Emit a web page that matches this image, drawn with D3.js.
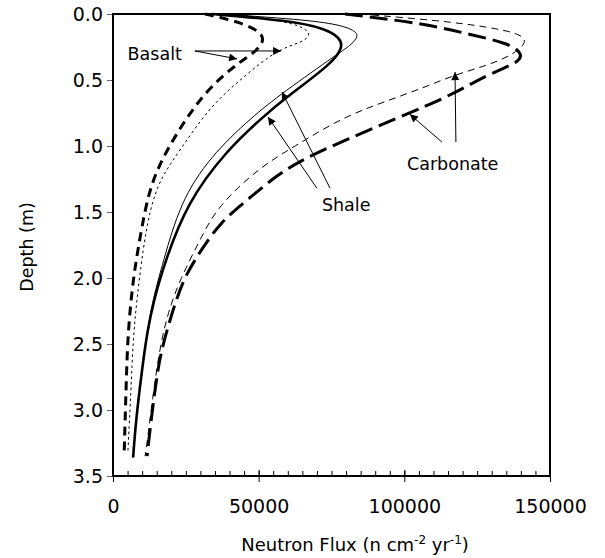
<!DOCTYPE html>
<html>
<head>
<meta charset="utf-8">
<script src="https://cdn.jsdelivr.net/npm/d3@7"></script>
<style>
body { margin: 0; background: #fff; }
text { font-family: "DejaVu Sans", Verdana, sans-serif; fill: #000; }
</style>
</head>
<body>
<svg id="chart" width="605" height="558"></svg>
<script>
// values: depth in m, flux in n cm-2 yr-1
var basaltThickDepth = [0, 0.06, 0.14, 0.21, 0.29, 0.36, 0.55, 0.78, 1.03, 1.25, 1.48, 1.78, 2.01, 2.41, 2.82, 3.35];
var basaltThickFlux  = [31600, 43600, 51100, 51800, 48700, 43600, 33300, 25400, 18500, 13700, 11000, 8600, 6900, 5100, 4500, 3800];

var basaltThinDepth = [0, 0.06, 0.12, 0.17, 0.22, 0.27, 0.48, 0.70, 1.03, 1.25, 1.48, 1.78, 2.16, 2.46, 2.84, 3.32];
var basaltThinFlux  = [41900, 60700, 66900, 67600, 64200, 56300, 44600, 33300, 23000, 16100, 12700, 10300, 8200, 6900, 6200, 5100];

var shaleThinDepth = [0, 0.04, 0.08, 0.13, 0.17, 0.23, 0.29, 0.60, 0.78, 1.08, 1.43, 1.88, 2.16, 2.41, 2.69, 3.07, 3.36];
var shaleThinFlux  = [36700, 64200, 77900, 83400, 84100, 82000, 77900, 58000, 47700, 33300, 23000, 17200, 13700, 11700, 10000, 7900, 6900];

var shaleThickDepth = [0, 0.05, 0.11, 0.18, 0.25, 0.37, 0.65, 0.78, 1.03, 1.43, 1.88, 2.16, 2.41, 2.69, 3.07, 3.36];
var shaleThickFlux  = [34000, 60700, 72800, 77900, 78900, 75500, 58300, 51500, 39100, 25400, 17800, 14100, 11700, 10000, 7900, 6900];

var carbThinDepth = [0, 0.05, 0.10, 0.15, 0.21, 0.31, 0.39, 0.46, 0.56, 0.65, 0.78, 1.01, 1.16, 1.46, 1.71, 2.01, 2.26, 2.52, 2.94, 3.20, 3.35];
var carbThinFlux  = [84800, 112200, 129400, 139700, 142400, 137300, 128400, 117400, 106400, 95100, 78900, 61800, 50400, 35700, 29900, 23000, 18900, 16100, 13400, 12000, 11000];

var carbThickDepth = [0, 0.07, 0.16, 0.22, 0.29, 0.36, 0.42, 0.52, 0.63, 0.78, 0.95, 1.10, 1.22, 1.41, 1.58, 1.80, 2.01, 2.31, 2.59, 2.82, 3.07, 3.35];
var carbThickFlux  = [79600, 106400, 123600, 135200, 140400, 139700, 132800, 123600, 114600, 98500, 80300, 65200, 56300, 46000, 36700, 29900, 24000, 19600, 16100, 14600, 13100, 11700];

var xTicks = [0, 50000, 100000, 150000];
var yTicks = [0, 0.5, 1.0, 1.5, 2.0, 2.5, 3.0, 3.5];

var svg = d3.select("#chart");

var x = d3.scaleLinear().domain([0, 150000]).range([113, 550]);
var y = d3.scaleLinear().domain([0, 3.5]).range([14, 476]);

var series = [
    { depth: basaltThickDepth, flux: basaltThickFlux, w: 3, dash: "9,6" },
    { depth: basaltThinDepth, flux: basaltThinFlux, w: 1, dash: "2.5,3" },
    { depth: shaleThinDepth, flux: shaleThinFlux, w: 1, dash: null },
    { depth: shaleThickDepth, flux: shaleThickFlux, w: 2.6, dash: null },
    { depth: carbThinDepth, flux: carbThinFlux, w: 1, dash: "7,5" },
    { depth: carbThickDepth, flux: carbThickFlux, w: 3, dash: "18,7" }
];

var line = d3.line()
    .curve(d3.curveBasis)
    .x(function (d) { return x(d[0]); })
    .y(function (d) { return y(d[1]); });

// arrow head
svg.append("defs").append("marker")
    .attr("id", "head")
    .attr("viewBox", "0 0 10 10")
    .attr("refX", 10).attr("refY", 5)
    .attr("markerUnits", "userSpaceOnUse")
    .attr("markerWidth", 10).attr("markerHeight", 8)
    .attr("orient", "auto")
    .append("path").attr("d", "M0,0L10,5L0,10z").attr("fill", "#000");

// curves
svg.selectAll(".curve")
    .data(series)
    .enter()
    .append("path")
    .attr("class", "curve")
    .attr("d", function (s) {
        return line(s.flux.map(function (f, i) { return [f, s.depth[i]]; }));
    })
    .attr("fill", "none")
    .attr("stroke", "#000")
    .attr("stroke-width", function (s) { return s.w; })
    .attr("stroke-dasharray", function (s) { return s.dash; });

// minor ticks inside the bottom edge
svg.append("g")
    .attr("transform", "translate(0," + y(3.5) + ")")
    .call(d3.axisTop(x).tickValues(d3.range(0, 150001, 5000)).tickSize(5).tickFormat(""))
    .call(function (g) { g.select(".domain").remove(); });

// major x ticks
var xAxis = svg.append("g")
    .attr("transform", "translate(0," + y(3.5) + ")")
    .call(d3.axisBottom(x).tickValues(xTicks).tickSize(6).tickPadding(18).tickFormat(d3.format("d")));
xAxis.select(".domain").remove();
xAxis.selectAll("text").style("font-size", "19px").attr("font-family", null);
svg.append("g")
    .attr("transform", "translate(0," + y(3.5) + ")")
    .call(d3.axisTop(x).tickValues([50000, 100000]).tickSize(6).tickFormat(""))
    .call(function (g) { g.select(".domain").remove(); });

// y axis
var yAxis = svg.append("g")
    .attr("transform", "translate(" + x(0) + ",0)")
    .call(d3.axisLeft(y).tickValues(yTicks).tickSize(6).tickPadding(4).tickFormat(d3.format(".1f")));
yAxis.select(".domain").remove();
yAxis.selectAll("line").attr("stroke", "#666");
yAxis.selectAll("text").style("font-size", "19px").attr("font-family", null);

// frame
svg.append("rect")
    .attr("x", x(0)).attr("y", y(0))
    .attr("width", x(150000) - x(0)).attr("height", y(3.5) - y(0))
    .attr("fill", "none").attr("stroke", "#000").attr("stroke-width", 2);

// axis titles
var xt = svg.append("text")
    .attr("x", 355).attr("y", 551)
    .attr("text-anchor", "middle")
    .style("font-size", "18px");
xt.append("tspan").text("Neutron Flux (n cm");
xt.append("tspan").attr("dy", -7).style("font-size", "12px").text("-2");
xt.append("tspan").attr("dy", 7).text(" yr");
xt.append("tspan").attr("dy", -7).style("font-size", "12px").text("-1");
xt.append("tspan").attr("dy", 7).text(")");

svg.append("text")
    .attr("transform", "translate(33,247) rotate(-90)")
    .attr("text-anchor", "middle")
    .style("font-size", "17.5px")
    .text("Depth (m)");

// labels with arrows, positioned in data units
var labels = [
    { text: "Basalt", f: 5000, d: 0.35 },
    { text: "Shale", f: 71700, d: 1.49 },
    { text: "Carbonate", f: 100900, d: 1.18 }
];
var arrows = [
    [28100, 0.28, 42600, 0.34],
    [28100, 0.28, 57700, 0.28],
    [70000, 1.32, 53200, 0.78],
    [74500, 1.32, 58000, 0.59],
    [117700, 0.97, 117400, 0.44],
    [112900, 0.97, 101900, 0.76]
];

svg.selectAll(".lab")
    .data(labels)
    .enter()
    .append("text")
    .attr("class", "lab")
    .attr("x", function (d) { return x(d.f); })
    .attr("y", function (d) { return y(d.d); })
    .style("font-size", "17.5px")
    .text(function (d) { return d.text; });

svg.selectAll(".arrow")
    .data(arrows)
    .enter()
    .append("line")
    .attr("class", "arrow")
    .attr("x1", function (d) { return x(d[0]); })
    .attr("y1", function (d) { return y(d[1]); })
    .attr("x2", function (d) { return x(d[2]); })
    .attr("y2", function (d) { return y(d[3]); })
    .attr("stroke", "#000")
    .attr("stroke-width", 1)
    .attr("marker-end", "url(#head)");
</script>
</body>
</html>
